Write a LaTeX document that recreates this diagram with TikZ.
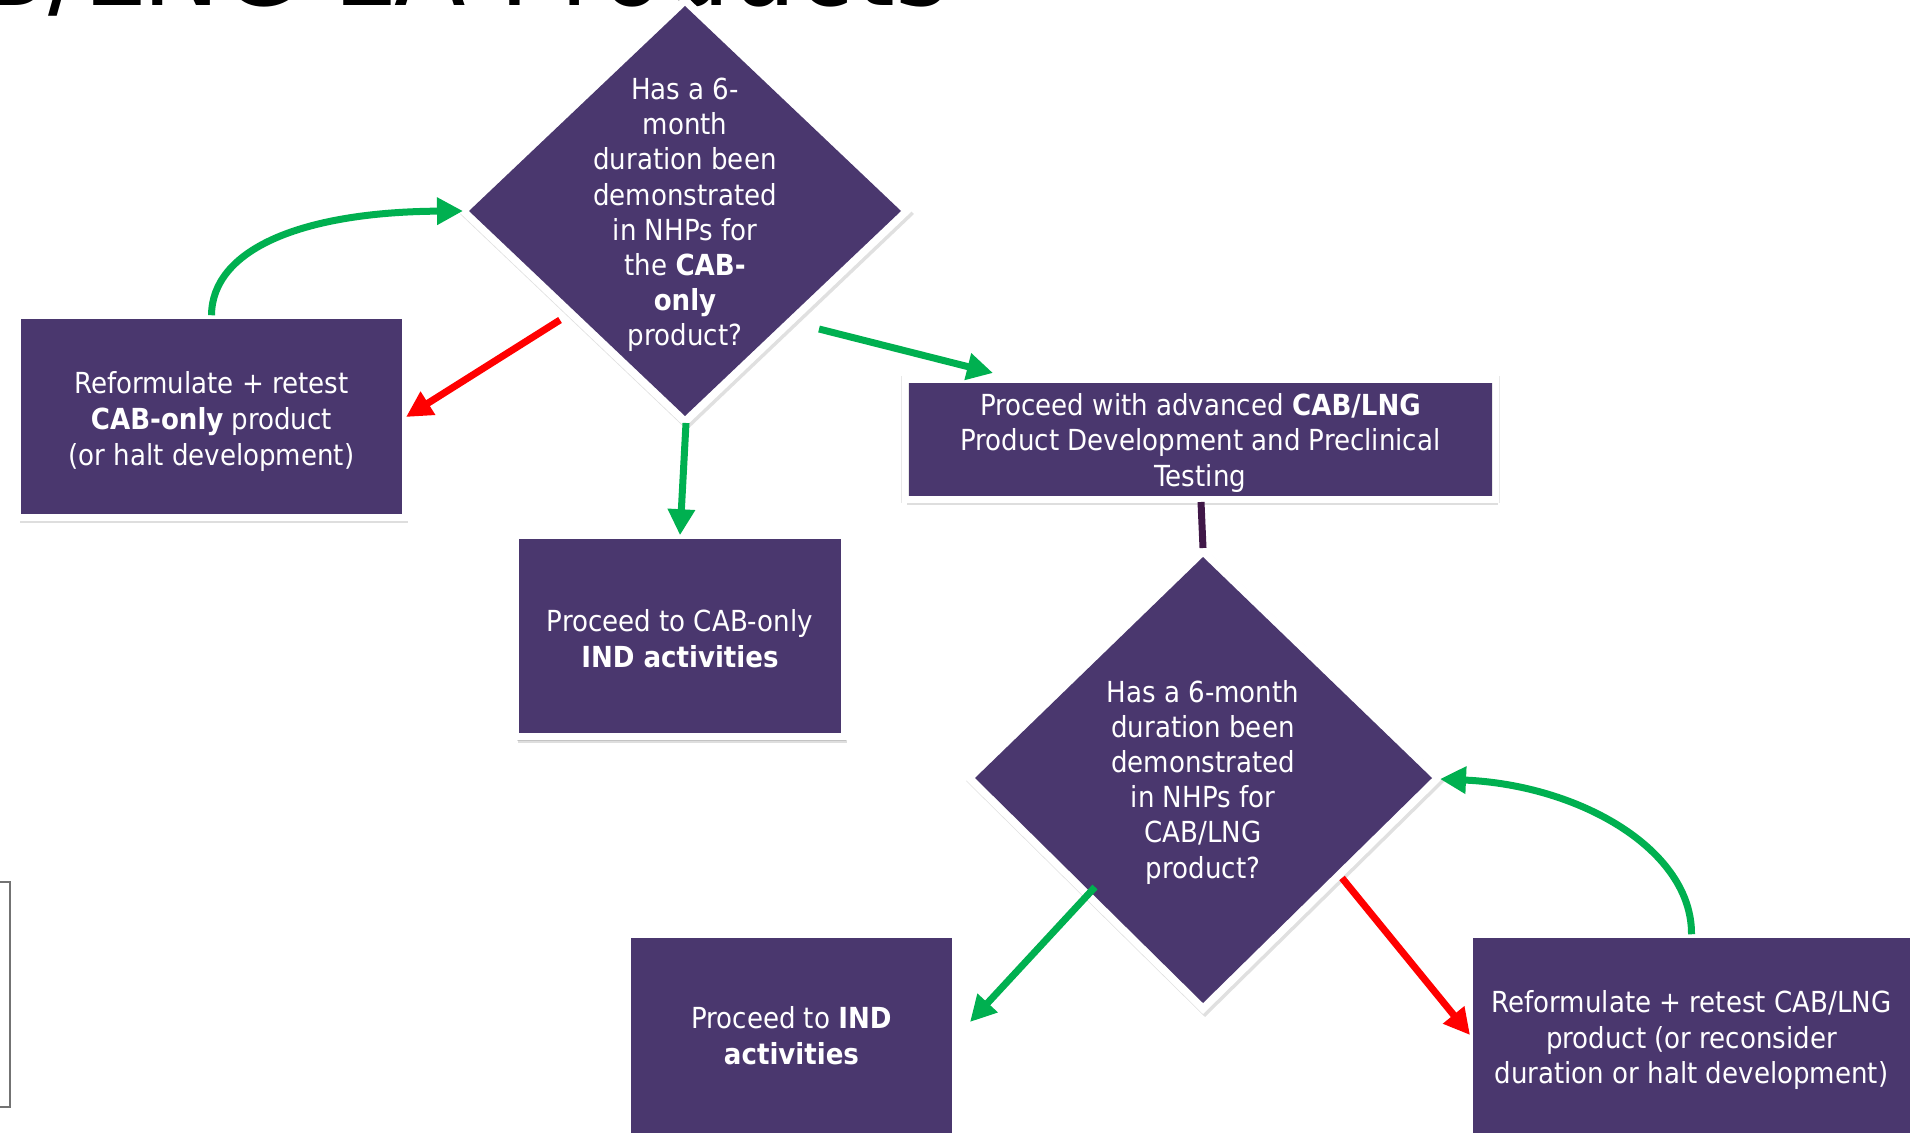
\documentclass[tikz,border=0pt]{standalone}
\usepackage{fontspec}
\setmainfont{DejaVu Sans Condensed}[BoldFont={DejaVu Sans Condensed Bold}]
\usetikzlibrary{arrows.meta,shadows}
\definecolor{boxpurple}{RGB}{74,55,110}
\definecolor{okgreen}{RGB}{0,176,80}
\definecolor{nored}{RGB}{255,0,0}
\definecolor{plum}{RGB}{64,24,72}
\tikzset{
  softshadow/.style={drop shadow={shadow xshift=1pt, shadow yshift=-3pt, opacity=0.13, fill=black},
                     drop shadow={shadow xshift=0.5pt, shadow yshift=-2pt, opacity=0.12, fill=black}},
  diashadow/.style={drop shadow={shadow xshift=1pt, shadow yshift=-1.5pt, opacity=0.12, fill=black}},
  box/.style={rectangle, fill=boxpurple, draw=black!9, line width=0.25pt, double=white,
    double distance=3.25pt, inner sep=0pt, softshadow},
  btext/.style={text=white, align=center, inner sep=0pt, font=\fontsize{14.5}{17.9}\selectfont},
  dtext/.style={text=white, align=center, inner sep=0pt, font=\fontsize{14.5}{17.6}\selectfont},
  conn/.style={line width=3.5pt, -{Triangle[length=13pt,width=13pt]}},
  garrow/.style={conn, draw=okgreen},
  rarrow/.style={conn, draw=nored},
}
\begin{document}
\begin{tikzpicture}[x=0.5pt,y=-0.5pt]
\useasboundingbox (0,0) rectangle (1921,1138);
\clip (0,0) rectangle (1921,1138);
\fill[white] (0,0) rectangle (1921,1138);

% cut-off title
\node[anchor=base east, inner sep=0pt, font=\fontsize{58}{60}\selectfont] (title) at (950,6) {CAB/LNG LA Products};

% partial frame at left edge
\draw[black!55, line width=1pt, fill=white] (-30,882) rectangle (10,1107);

% diamond 1
\fill[white, diashadow] (685,-5) -- (912,211) -- (685,427) -- (458,211) -- cycle;
\fill[boxpurple] (685,6) -- (901,211) -- (685,416) -- (469,211) -- cycle;
\node[dtext] (q1) at (685,215) {Has a 6-\\month\\duration been\\demonstrated\\in NHPs for\\the \textbf{CAB-}\\\textbf{only}\\product?};

% diamond 2
\fill[white, diashadow] (1203,546) -- (1443,778) -- (1203,1014) -- (964,778) -- cycle;
\fill[boxpurple] (1203,557) -- (1432,778) -- (1203,1003) -- (975,778) -- cycle;
\node[dtext] (q2) at (1203,782) {Has a 6-month\\duration been\\demonstrated\\in NHPs for\\CAB/LNG\\product?};

% boxes
\node[box, minimum width=194pt, minimum height=101pt] (lbox) at (211.5,416.5) {};
\node[btext] (lboxt) at (211.5,421.5) {Reformulate + retest\\\textbf{CAB-only} product\\(or halt development)};
\node[box, minimum width=164.5pt, minimum height=100.5pt] (ind1) at (680,636) {};
\node[btext] (ind1t) at (680,639) {Proceed to CAB-only\\\textbf{IND activities}};
\node[box, minimum width=295.5pt, minimum height=60pt] (adv) at (1200.5,439.5) {};
\node[btext] (advt) at (1200.5,443) {Proceed with advanced \textbf{CAB/LNG}\\Product Development and Preclinical\\Testing};
\node[box, minimum width=164pt, minimum height=101pt] (ind2) at (791.5,1035.5) {};
\node[btext] (ind2t) at (791.5,1036) {Proceed to \textbf{IND}\\\textbf{activities}};
\node[box, minimum width=222pt, minimum height=101pt] (rbox) at (1691.5,1035.5) {};
\node[btext] (rboxt) at (1691.5,1040) {Reformulate + retest CAB/LNG\\product (or reconsider\\duration or halt development)};

% connector end points
\coordinate (q1w) at (463,211);
\coordinate (q1sw) at (560,320);
\coordinate (lboxe) at (406,417);
\coordinate (q1s) at (686,423);
\coordinate (q1se) at (819,329);
\coordinate (advnw) at (993,373);
\coordinate (advs) at (1201,502);
\coordinate (q2n) at (1203,548);
\coordinate (q2sw) at (1095,887);
\coordinate (ind2e) at (970,1022);
\coordinate (q2se) at (1342,878);
\coordinate (rboxw) at (1470,1035);
\coordinate (q2e) at (1440,779);

% connectors
\draw[garrow] (lbox.north) .. controls (212,250) and (300,212) .. (q1w);
\draw[rarrow] (q1sw) -- (lboxe);
\draw[garrow] (q1s) -- (ind1.north);
\draw[garrow] (q1se) -- (advnw);
\draw[plum, line width=3.5pt] (advs) -- (q2n);
\draw[garrow] (q2sw) -- (ind2e);
\draw[rarrow] (q2se) -- (rboxw);
\draw[garrow] (rbox.north) .. controls (1692,850) and (1580,785) .. (q2e);
\end{tikzpicture}
\end{document}
